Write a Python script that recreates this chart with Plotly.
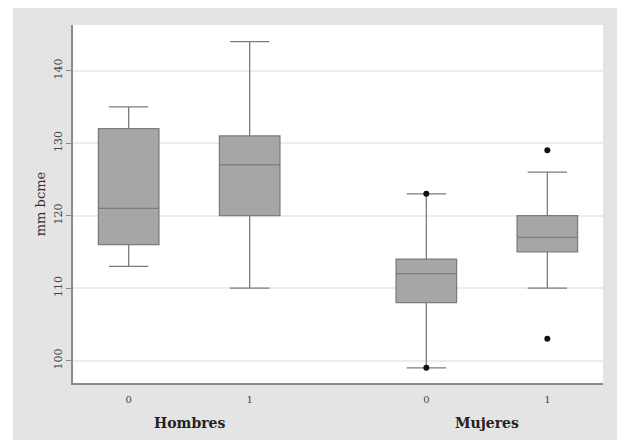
import plotly.graph_objects as go

# Box-plot summaries of mm bcme by sex (Hombres/Mujeres) and group (0/1)
groups = ["Hombres", "Mujeres"]
subgroups = ["0", "1"]
q1 = [116, 120, 108, 115]
median = [121, 127, 112, 117]
q3 = [132, 131, 114, 120]
lower_whisker = [113, 110, 99, 110]
upper_whisker = [135, 144, 123, 126]

# Outside values (box index, value)
outlier_box = [2, 2, 3, 3]
outlier_val = [123, 99, 129, 103]

yticks = [100, 110, 120, 130, 140]

# horizontal placement: boxes one unit apart, extra gap between sex groups
group_step = 2.46
positions = [g * group_step + i for g in range(len(groups)) for i in range(len(subgroups))]
tick_text = [s for _ in groups for s in subgroups]
group_centers = [g * group_step + (len(subgroups) - 1) / 2 for g in range(len(groups))]

FONT = "DejaVu Serif, Liberation Serif, serif"

fig = go.Figure()
fig.add_trace(go.Box(
    x=positions,
    q1=q1, median=median, q3=q3,
    lowerfence=lower_whisker, upperfence=upper_whisker,
    boxpoints=False,
    width=0.5,
    whiskerwidth=0.65,
    fillcolor="#a6a6a6",
    line=dict(color="#7c7c7c", width=1.3),
    showlegend=False,
    hoverinfo="skip",
))
fig.add_trace(go.Scatter(
    x=[positions[i] for i in outlier_box],
    y=outlier_val,
    mode="markers",
    marker=dict(color="#111111", size=6),
    showlegend=False,
    hoverinfo="skip",
))

W, H = 618, 443
ml, mr, mt, mb = 73, 15, 25, 60
pw, ph = W - ml - mr, H - mt - mb

# light grey outer frame, with the white plot region on top of it
fig.add_shape(
    type="rect", xref="paper", yref="paper", layer="below",
    x0=(13 - ml) / pw, x1=(617 - ml) / pw,
    y0=(H - mb - 440) / ph, y1=(H - mb - 8) / ph,
    fillcolor="#e4e4e4", line=dict(width=0),
)
fig.add_shape(
    type="rect", xref="paper", yref="paper", layer="below",
    x0=0, x1=1, y0=0, y1=1,
    fillcolor="white", line=dict(width=0),
)

for name, xc in zip(groups, group_centers):
    fig.add_annotation(
        x=xc, xref="x", y=(H - mb - 423) / ph, yref="paper",
        text=f"<b>{name}</b>", showarrow=False,
        font=dict(family=FONT, size=14, color="#222222"),
        yanchor="middle",
    )

fig.update_layout(
    width=W, height=H,
    margin=dict(l=ml, r=mr, t=mt, b=mb),
    paper_bgcolor="white",
    plot_bgcolor="white",
    font=dict(family=FONT, size=10, color="#333333"),
)
fig.update_xaxes(
    range=[-0.46, positions[-1] + 0.46],
    tickvals=positions, ticktext=tick_text,
    showgrid=False, zeroline=False,
    showline=True, linecolor="#8a8a8a", linewidth=1.5,
    ticks="", ticklabelstandoff=6,
    tickfont=dict(family=FONT, size=10, color="#444444"),
)
fig.update_yaxes(
    range=[96.9, 146.3],
    tickvals=yticks, ticktext=[str(v) for v in yticks],
    tickangle=-90,
    showgrid=True, gridcolor="#ececec", gridwidth=1.5,
    zeroline=False,
    showline=True, linecolor="#8a8a8a", linewidth=1.5,
    ticks="outside", ticklen=5, tickcolor="#8a8a8a",
    tickfont=dict(family=FONT, size=11, color="#444444"),
    title=dict(text="mm bcme", standoff=3,
               font=dict(family=FONT, size=13, color="#333333")),
)

fig.write_html("out.html")
